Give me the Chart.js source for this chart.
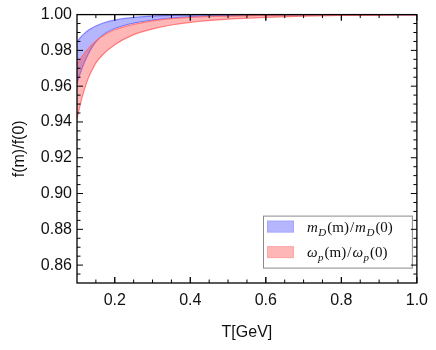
<!DOCTYPE html>
<html>
<head>
<meta charset="utf-8">
<script src="https://cdn.jsdelivr.net/npm/chart.js@4"></script>
<style>
html,body{margin:0;padding:0;background:#fff;}
#wrap{width:436px;height:350px;position:relative;}
</style>
</head>
<body>
<div id="wrap"><canvas id="c" width="436" height="350"></canvas></div>
<script>
// ---- data ----
const tValues   = [0.10,0.11,0.12,0.13,0.14,0.15,0.17,0.20,0.25,0.30,0.35,0.40,0.50,0.60,0.70,0.80,0.90,1.00];
const blueUpper = [0.9847,0.9874,0.9895,0.9912,0.9925,0.9936,0.9953,0.9969,0.9984,0.9992,0.9996,0.9998,0.9999,1.0000,1.0000,1.0000,1.0000,1.0000];
const blueLower = [0.9616,0.9680,0.9735,0.9780,0.9818,0.9848,0.9888,0.9922,0.9952,0.9969,0.9980,0.9987,0.9994,0.9997,0.9998,0.9999,1.0000,1.0000];
const redUpper  = [0.9720,0.9755,0.9785,0.9810,0.9833,0.9853,0.9883,0.9915,0.9945,0.9965,0.9977,0.9985,0.9992,0.9996,0.9998,0.9999,0.9999,1.0000];
const redLower  = [0.9415,0.9510,0.9585,0.9645,0.9690,0.9730,0.9780,0.9832,0.9888,0.9920,0.9942,0.9957,0.9975,0.9985,0.9991,0.9995,0.9997,0.9998];
const xTicks = [0.2,0.4,0.6,0.8,1.0];
const yTicks = [0.86,0.88,0.90,0.92,0.94,0.96,0.98,1.00];
const xTitle = 'T[GeV]';
const yTitle = 'f(m)/f(0)';
const legendLabels = [
  [['m','i',0],['D','i',1],['(m)/','r',0],['m','i',0],['D','i',1],['(0)','r',0]],
  [['ω','i',0],['p','i',1],['(m)/','r',0],['ω','i',0],['p','i',1],['(0)','r',0]]
];

const BLUE_FILL='rgba(80,80,255,0.42)', BLUE_LINE='rgba(110,110,255,0.85)';
const RED_FILL='rgba(255,80,80,0.42)',  RED_LINE='rgba(255,110,110,0.85)';
const pts = arr => tValues.map((t,i)=>({x:t,y:arr[i]}));

const lineDs = (arr, line, fill, fillTo) => ({
  data: pts(arr), borderColor: line, borderWidth: 1.2, backgroundColor: fill,
  fill: fillTo, pointRadius: 0, cubicInterpolationMode: 'monotone'
});

const frameTicks = {
  id:'frameTicks',
  afterDraw(chart){
    const ctx=chart.ctx, a=chart.chartArea, xs=chart.scales.x, ys=chart.scales.y;
    // legend box
    const bx=a.left+186, by=a.top+201, bw=a.right-5-(a.left+186), bh=52;
    ctx.save();
    ctx.fillStyle='#fff'; ctx.fillRect(bx,by,bw,bh);
    ctx.strokeStyle='#8a8a8a'; ctx.lineWidth=1; ctx.strokeRect(bx+0.5,by+0.5,bw,bh);
    const sw=[[BLUE_FILL,'rgba(120,120,255,0.25)'],[RED_FILL,'rgba(255,120,120,0.25)']];
    legendLabels.forEach((parts,k)=>{
      const sy=by+5+k*25.5;
      ctx.fillStyle=sw[k][0]; ctx.fillRect(bx+4,sy,27,12);
      ctx.strokeStyle=sw[k][1]; ctx.strokeRect(bx+4.5,sy+0.5,26,11);
      let x=bx+44; const base=sy+11;
      ctx.fillStyle='#111'; ctx.textBaseline='alphabetic'; ctx.textAlign='left';
      parts.forEach(([txt,st,sub])=>{
        const size=sub?11:15;
        ctx.font=(st==='i'?'italic ':'')+size+'px "Liberation Serif"';
        let t=txt;
        if(txt==='(m)/'){
          ctx.fillText('(m)',x,base); x+=ctx.measureText('(m)').width+1;
          ctx.fillText('/',x,base); x+=ctx.measureText('/').width+1; return;
        }
        ctx.fillText(t,x,base+(sub?4:0));
        x+=ctx.measureText(t).width+(sub?1:0.5);
      });
    });
    // frame
    ctx.strokeStyle='#000'; ctx.lineWidth=1.3;
    ctx.strokeRect(a.left,a.top,a.right-a.left,a.bottom-a.top);
    ctx.lineWidth=1;
    const tick=(x1,y1,x2,y2)=>{ctx.beginPath();ctx.moveTo(x1,y1);ctx.lineTo(x2,y2);ctx.stroke();};
    const xMinor=[]; for(let v=0.15;v<1.0;v+=0.05){xMinor.push(+v.toFixed(2));}
    xMinor.forEach(v=>{
      const px=xs.getPixelForValue(v);
      const major=xTicks.some(m=>Math.abs(m-v)<1e-6);
      const L=major?6:3.5;
      tick(px,a.bottom,px,a.bottom-L); tick(px,a.top,px,a.top+L);
    });
    xTicks.forEach(v=>{const px=xs.getPixelForValue(v);tick(px,a.bottom,px,a.bottom-6);tick(px,a.top,px,a.top+6);});
    for(let v=0.855;v<1.0;v+=0.005){
      const vv=+v.toFixed(3);
      const py=ys.getPixelForValue(vv);
      const major=yTicks.some(m=>Math.abs(m-vv)<1e-6);
      const L=major?6:3.5;
      tick(a.left,py,a.left+L,py); tick(a.right,py,a.right-L,py);
    }
    ctx.restore();
  }
};

new Chart(document.getElementById('c'),{
  type:'line',
  data:{datasets:[
    lineDs(redUpper,RED_LINE,RED_FILL,'+1'),
    lineDs(redLower,RED_LINE,RED_FILL,false),
    lineDs(blueUpper,BLUE_LINE,BLUE_FILL,'+1'),
    lineDs(blueLower,BLUE_LINE,BLUE_FILL,false)
  ]},
  options:{
    responsive:false, animation:false,
    layout:{padding:{left:0,right:19,top:12,bottom:0}},
    plugins:{legend:{display:false},tooltip:{enabled:false}},
    scales:{
      x:{type:'linear',min:0.1,max:1.0,
        afterBuildTicks:s=>{s.ticks=xTicks.map(v=>({value:v}));},
        afterFit:s=>{s.height=67;},
        grid:{display:false,drawTicks:false},border:{display:false},
        ticks:{padding:8,color:'#111',font:{family:'"Liberation Sans"',size:16},callback:v=>v.toFixed(1)},
        title:{display:true,text:xTitle,color:'#111',font:{family:'"Liberation Sans"',size:16},padding:{top:6,bottom:8}}
      },
      y:{type:'linear',min:0.85,max:1.0,
        afterBuildTicks:s=>{s.ticks=yTicks.map(v=>({value:v}));},
        afterFit:s=>{s.width=77;},
        grid:{display:false,drawTicks:false},border:{display:false},
        ticks:{padding:5,color:'#111',font:{family:'"Liberation Sans"',size:16},callback:v=>v.toFixed(2)},
        title:{display:true,text:yTitle,color:'#111',font:{family:'"Liberation Sans"',size:16},padding:{top:10,bottom:0}}
      }
    }
  },
  plugins:[frameTicks]
});
</script>
</body>
</html>
